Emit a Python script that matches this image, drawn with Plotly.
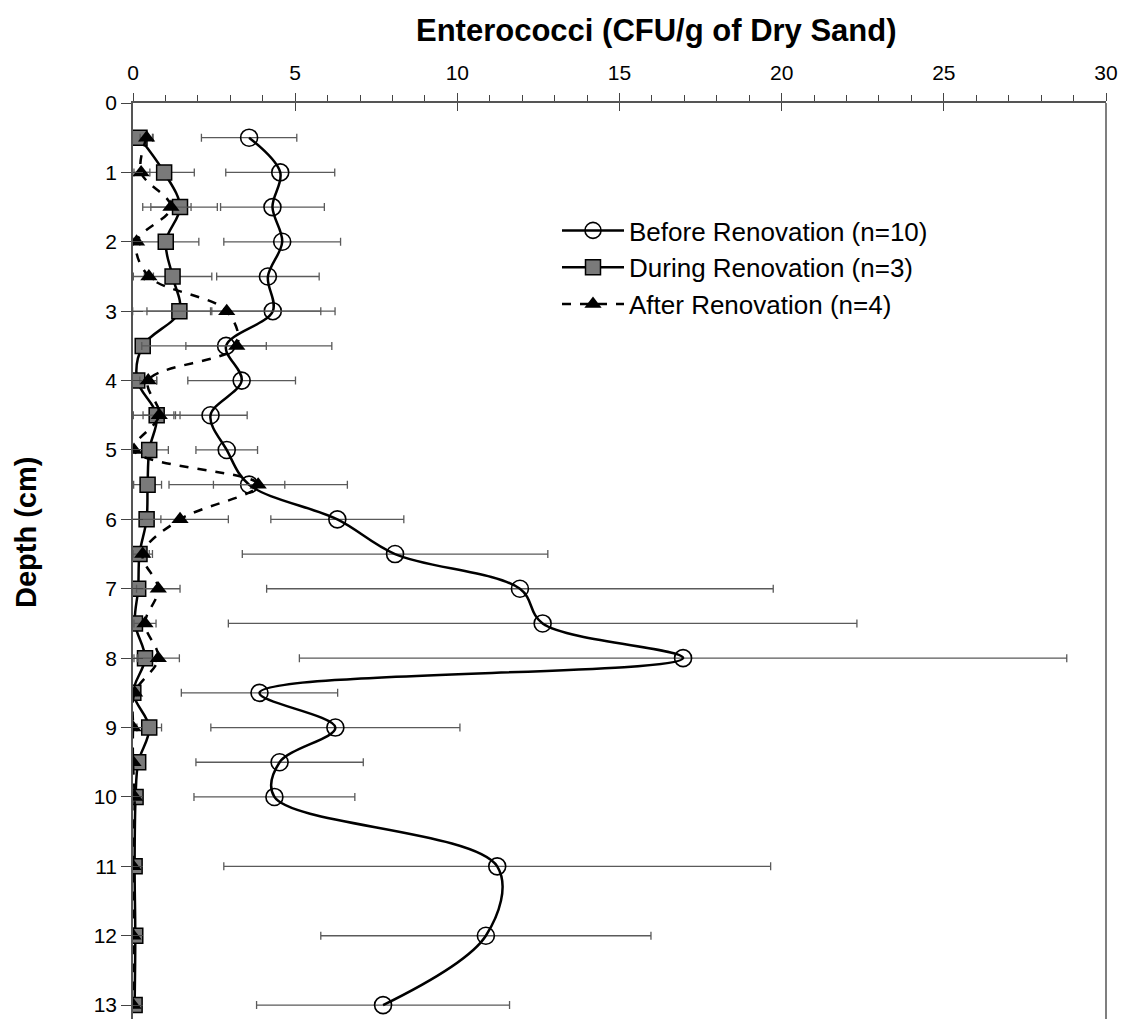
import plotly.graph_objects as go

# ---- data ----
depth = [0.5, 1, 1.5, 2, 2.5, 3, 3.5, 4, 4.5, 5, 5.5, 6, 6.5, 7, 7.5, 8, 8.5, 9, 9.5, 10, 11, 12, 13]

before = [3.58, 4.54, 4.30, 4.60, 4.16, 4.31, 2.87, 3.35, 2.39, 2.89, 3.58, 6.30, 8.08, 11.93,
          12.63, 16.96, 3.90, 6.24, 4.52, 4.36, 11.23, 10.88, 7.71]
before_err = [1.47, 1.68, 1.60, 1.80, 1.58, 1.92, 1.24, 1.66, 1.13, 0.95, 1.10, 2.05, 4.71, 7.81,
              9.69, 11.83, 2.41, 3.84, 2.58, 2.48, 8.43, 5.09, 3.90]

during = [0.20, 0.96, 1.45, 1.01, 1.22, 1.43, 0.30, 0.13, 0.73, 0.50, 0.45, 0.42, 0.20, 0.16,
          0.06, 0.37, 0.01, 0.50, 0.16, 0.08, 0.05, 0.07, 0.05]
during_err = [0.40, 0.93, 1.15, 1.02, 1.21, 1.00, 0.10, 0.60, 0.72, 0.59, 0.43, 0.44, 0.30, 0.10,
              0.10, 0.34, 0.05, 0.38, 0.10, 0.10, 0.0, 0.0, 0.0]

after = [0.42, 0.25, 1.17, 0.11, 0.49, 2.89, 3.20, 0.47, 0.81, 0.03, 3.86, 1.45, 0.30, 0.78,
         0.37, 0.78, 0.05, 0.00, 0.00, 0.05, 0.00, 0.00, 0.00]
after_err = [0.20, 0.27, 0.62, 0.10, 0.14, 2.90, 2.93, 0.26, 0.50, 0.03, 2.75, 1.49, 0.30, 0.67,
             0.34, 0.65, 0.05, 0.00, 0.00, 0.00, 0.00, 0.00, 0.00]

names = ["Before Renovation (n=10)", "During Renovation (n=3)", "After Renovation (n=4)"]
x_ticks = [0, 5, 10, 15, 20, 25, 30]
y_ticks = list(range(0, 14))

FONT = "Liberation Sans, Arial, sans-serif"
ERR_COLOR = "#5a5a5a"
AX_COLOR = "#555"
X_RANGE = [0, 30]
Y_RANGE = [13.2, 0]

# page body has an 8px margin; figure sized so the plot area lands where the reference has it
W, H = 1126, 1013
ML, MR, MT, MB = 125, 28, 95, 2
PW, PH = W - ML - MR, H - MT - MB

def px_x(px):  # window pixel -> paper x
    return (px - 8 - ML) / PW

def px_y(py):  # window pixel -> paper y
    return 1 - (py - 8 - MT) / PH

fig = go.Figure()

def err(vals):
    return dict(type="data", array=vals, visible=True, color=ERR_COLOR, thickness=1.3, width=4)

fig.add_trace(go.Scatter(
    x=before, y=depth, name=names[0], mode="lines+markers",
    line=dict(color="black", width=2.5, shape="spline", smoothing=1),
    marker=dict(symbol="circle-open", size=17, color="black", line=dict(width=1.6)),
    error_x=err(before_err),
))
fig.add_trace(go.Scatter(
    x=during, y=depth, name=names[1], mode="lines+markers",
    line=dict(color="black", width=2.5, shape="spline", smoothing=1),
    marker=dict(symbol="square", size=15, color="#7a7a7a", line=dict(color="black", width=1.5)),
    error_x=err(during_err),
))
fig.add_trace(go.Scatter(
    x=after, y=depth, name=names[2], mode="lines+markers",
    line=dict(color="black", width=2.5, shape="spline", smoothing=1, dash="dash"),
    marker=dict(symbol="triangle-up", size=15, color="black"),
    error_x=err(after_err),
))
# invisible trace that carries the overlay axes (inner half of the crossing ticks)
fig.add_trace(go.Scatter(x=[None], y=[None], xaxis="x2", yaxis="y2", showlegend=False,
                         hoverinfo="skip", mode="markers"))

fig.update_layout(
    width=W, height=H,
    margin=dict(l=ML, r=MR, t=MT, b=MB),
    paper_bgcolor="white", plot_bgcolor="white",
    font=dict(family=FONT, color="black"),
    showlegend=True,
    legend=dict(
        x=px_x(557), y=px_y(207), xanchor="left", yanchor="top",
        font=dict(size=26, family=FONT, color="black"),
        bgcolor="rgba(0,0,0,0)", itemwidth=62, tracegroupgap=0,
    ),
    xaxis=dict(
        side="top", range=X_RANGE, tickvals=x_ticks, ticks="outside", ticklen=8,
        tickcolor="#444", showline=True, linecolor=AX_COLOR, linewidth=1.5, mirror=False,
        showgrid=False, zeroline=False, tickfont=dict(size=21, family=FONT),
        minor=dict(dtick=1, ticks="outside", ticklen=6, tickcolor="#444", showgrid=False),
        ticklabelstandoff=5,
    ),
    xaxis2=dict(
        overlaying="x", side="top", range=X_RANGE, tickvals=x_ticks, ticks="inside",
        ticklen=8, tickcolor="#444", showticklabels=False, showline=False,
        showgrid=False, zeroline=False,
    ),
    yaxis=dict(
        range=Y_RANGE, tickvals=y_ticks, ticks="outside", ticklen=10, tickcolor="#444",
        showline=True, linecolor=AX_COLOR, linewidth=1.5, showgrid=False, zeroline=False,
        tickfont=dict(size=21, family=FONT), ticklabelstandoff=0,
    ),
    yaxis2=dict(
        overlaying="y", side="left", range=Y_RANGE, tickvals=y_ticks, ticks="inside",
        ticklen=10, tickcolor="#444", showticklabels=False, showline=False,
        showgrid=False, zeroline=False,
    ),
    shapes=[dict(type="line", xref="paper", yref="paper", x0=1, x1=1, y0=0, y1=1,
                 line=dict(color=AX_COLOR, width=1.5))],
    annotations=[
        dict(text="<b>Enterococci (CFU/g of Dry Sand)</b>", xref="paper", yref="paper",
             x=px_x(656), y=px_y(30), xanchor="center", yanchor="middle",
             showarrow=False, font=dict(size=31, family=FONT)),
        dict(text="<b>Depth (cm)</b>", xref="paper", yref="paper",
             x=px_x(26), y=px_y(533), xanchor="center", yanchor="middle",
             textangle=-90, showarrow=False, font=dict(size=29, family=FONT)),
    ],
)

fig.write_html("out.html")
